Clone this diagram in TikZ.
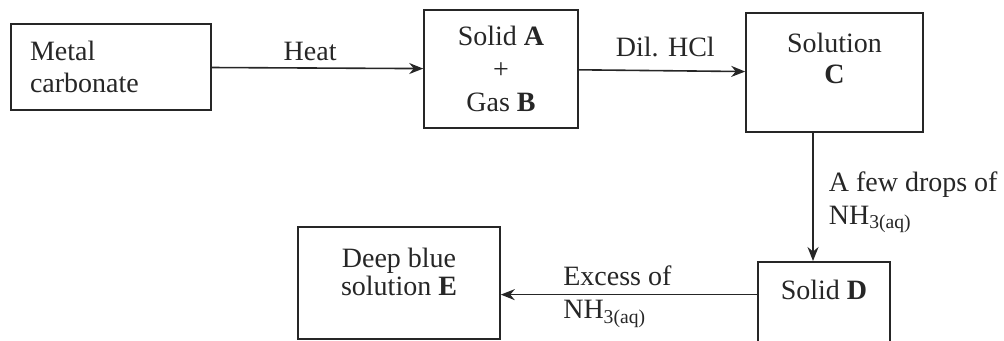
\documentclass[tikz,border=0pt]{standalone}
\usepackage{fontspec}
\setmainfont{Liberation Serif}
\usetikzlibrary{arrows.meta,positioning}
\definecolor{inkgrey}{HTML}{262626}
\tikzset{
  cbox/.style={draw=inkgrey, line width=0.8pt, align=center, text=inkgrey,
               font=\fontsize{14}{16.5}\selectfont, inner sep=0pt},
  carrow/.style={-{Stealth[length=7pt,width=5.5pt]}, draw=inkgrey,
                 line width=0.8pt},
  clabel/.style={font=\fontsize{14}{16.5}\selectfont, text=inkgrey,
                 inner sep=2pt, align=left},
}

\begin{document}
\begin{tikzpicture}[x=0.5pt, y=-0.5pt]
  \useasboundingbox (0,0) rectangle (1004,341);
  \clip (0,0) rectangle (1004,341);

  % --- top row ---
  \node[cbox, align=left, text width=81pt, inner xsep=9.5pt, minimum height=43pt,
        font=\fontsize{14}{16}\selectfont] (metal) at (111,67) {Metal\\carbonate};
  \node[cbox, minimum width=77pt, minimum height=59pt] (solidA) at (501,69)
    {Solid \textbf{A}\\+\\Gas \textbf{B}};
  \node[cbox, minimum width=88.5pt, minimum height=59.5pt, text depth=14.4pt,
        font=\fontsize{14}{15.5}\selectfont] (solnC) at (834.5,72.5) {Solution\\\textbf{C}};

  % --- bottom row ---
  \node[cbox, anchor=north, minimum width=66pt, inner ysep=9pt, text depth=40pt]
    (solidD) at (824,261) {Solid \textbf{D}};
  \node[cbox, minimum width=101pt, minimum height=56pt, text depth=11.4pt,
        font=\fontsize{14}{14}\selectfont] (solnE) at (399,283)
    {Deep blue\\solution \textbf{E}};

  \draw[carrow] (metal) -- node[clabel, above=1pt, pos=0.465] {Heat} (solidA);
  \draw[carrow] (solidA) -- node[clabel, above=4.5pt, pos=0.52] {Dil. HCl} (solnC);
  \draw[carrow] ([xshift=-10.75pt]solnC.south) -- ([xshift=-10.75pt]solnC.south |- solidD.north)
    node[clabel, midway, right=5.5pt, yshift=-2.5pt] {A few drops of\\NH\textsubscript{3(aq)}};
  \draw[carrow] (solidD.mid west) -- (solidD.mid west -| solnE.east)
    node[clabel, pos=0.775, anchor=west, yshift=-1pt] {Excess of\\NH\textsubscript{3(aq)}};
\end{tikzpicture}
\end{document}
